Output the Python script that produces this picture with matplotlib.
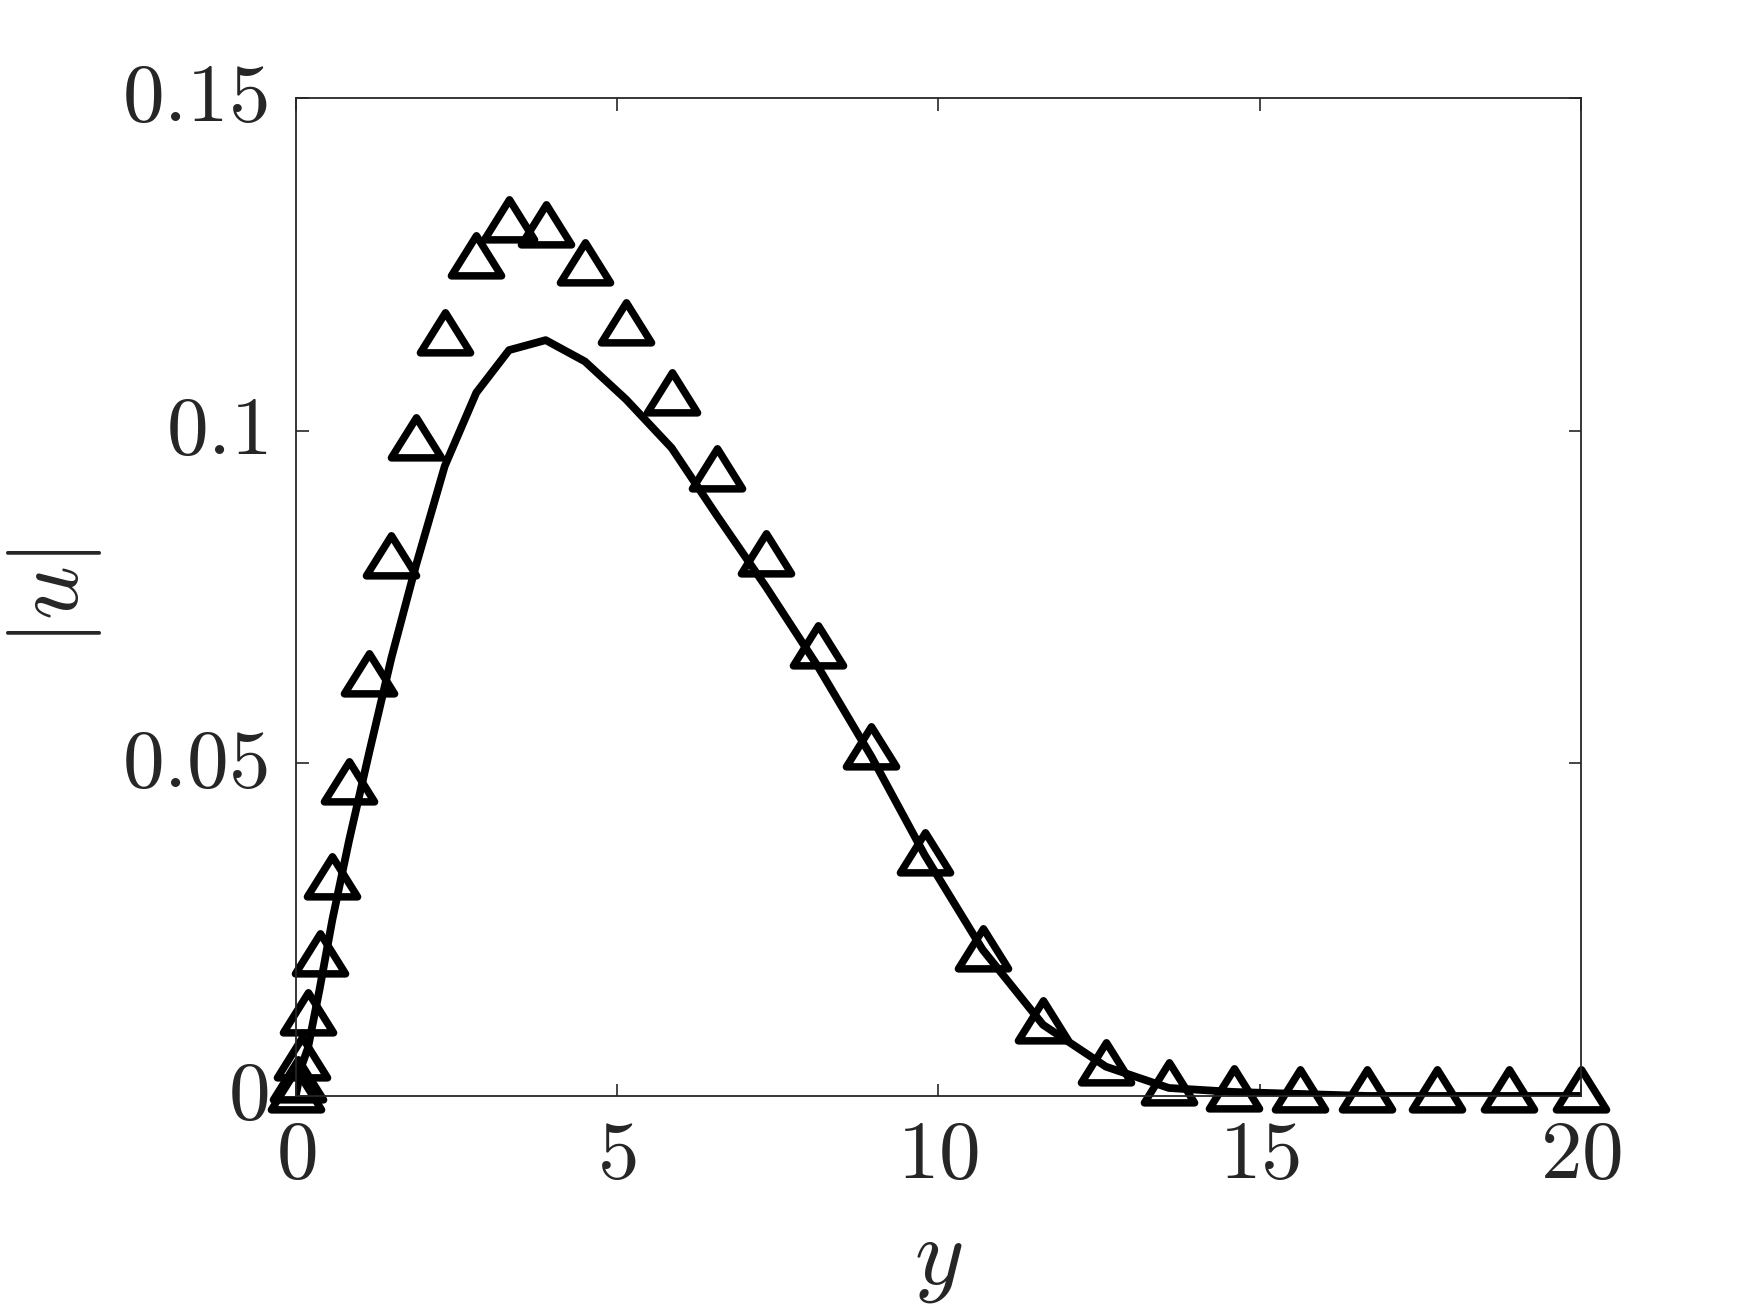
import matplotlib
matplotlib.use("Agg")
import matplotlib.pyplot as plt
from matplotlib.path import Path

# grid points in y (shared by both curves)
y_grid = [0.0, 0.03, 0.09, 0.19, 0.37, 0.57, 0.83, 1.14, 1.49, 1.87,
          2.32, 2.81, 3.32, 3.89, 4.50, 5.14, 5.85, 6.55, 7.32, 8.13,
          8.96, 9.79, 10.69, 11.63, 12.61, 13.59, 14.60, 15.63, 16.68, 17.76,
          18.88, 20.0]

# solid line
u_line = [0, 0.0015, 0.0045, 0.0072, 0.016, 0.0265, 0.0384, 0.0515, 0.0659, 0.0797,
          0.0947, 0.1057, 0.1121, 0.1136, 0.1104, 0.1047, 0.0974, 0.0873, 0.0765, 0.0645,
          0.0510, 0.0362, 0.0220, 0.0107, 0.0044, 0.0012, 0.0006, 0.0003, 0, 0,
          0, 0]

# triangle markers
u_tri = [0, 0.0015, 0.0048, 0.0116, 0.0204, 0.0320, 0.0463, 0.0625, 0.0803, 0.0980,
         0.1138, 0.1253, 0.1307, 0.1300, 0.1243, 0.1152, 0.1047, 0.0933, 0.0806, 0.0668,
         0.0515, 0.0356, 0.0212, 0.0103, 0.0041, 0.0011, 0.0002, 0, 0, 0,
         0, 0]

xticks = [0, 5, 10, 15, 20]
xticklabels = ['$0$', '$5$', '$10$', '$15$', '$20$']
yticks = [0, 0.05, 0.1, 0.15]
yticklabels = ['$0$', '$0.05$', '$0.1$', '$0.15$']

plt.rcParams['mathtext.fontset'] = 'cm'
gray = '#262626'

# triangle centred on its centroid (like matlab's marker)
h = 0.8
tri = Path([(0, 2 * h / 3), (-0.5, -h / 3), (0.5, -h / 3), (0, 2 * h / 3)],
           [Path.MOVETO, Path.LINETO, Path.LINETO, Path.CLOSEPOLY])

fig = plt.figure(figsize=(17.5, 13.13), dpi=100)
ax = fig.add_axes([0.169, 0.1653, 0.7343, 0.7601])

ax.plot(y_grid, u_line, color='black', linewidth=5.6)
ax.plot(y_grid, u_tri, linestyle='none', marker=tri, markersize=38.5,
        markerfacecolor='none', markeredgecolor='black', markeredgewidth=5.4,
        clip_on=False)

ax.set_xlim(0, 20)
ax.set_ylim(0, 0.15)
ax.set_xticks(xticks)
ax.set_xticklabels(xticklabels)
ax.set_yticks(yticks)
ax.set_yticklabels(yticklabels)

ax.tick_params(direction='in', length=9, width=1.2, colors=gray, labelsize=60,
               top=True, right=True)
ax.tick_params(axis='x', pad=13)
ax.tick_params(axis='y', pad=20)
for lbl in ax.get_yticklabels():
    lbl.set_va('center')
for s in ax.spines.values():
    s.set_color(gray)
    s.set_linewidth(1.3)

ax.set_xlabel('$y$', fontsize=68, color=gray)
ax.set_ylabel('$|u|$', fontsize=68, color=gray)
ax.xaxis.set_label_coords(0.5, -0.117)
ax.yaxis.set_label_coords(-0.149, 0.5)

fig.savefig('out.png', dpi=100)
